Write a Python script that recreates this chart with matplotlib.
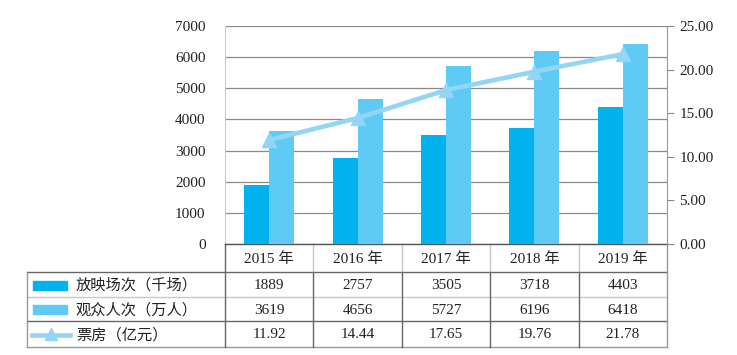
import numpy as np
import matplotlib
matplotlib.use("Agg")
import matplotlib.pyplot as plt
from matplotlib.lines import Line2D
from matplotlib.patches import Rectangle

years = ["2015 年", "2016 年", "2017 年", "2018 年", "2019 年"]
screenings = [1889, 2757, 3505, 3718, 4403]
audience = [3619, 4656, 5727, 6196, 6418]
box_office = [11.92, 14.44, 17.65, 19.76, 21.78]
row_labels = ["放映场次（千场）", "观众人次（万人）", "票房（亿元）"]
left_ticks = [0, 1000, 2000, 3000, 4000, 5000, 6000, 7000]
right_ticks = [0, 5, 10, 15, 20, 25]

FONT = ['Liberation Serif', 'Noto Sans CJK SC']
plt.rcParams['font.family'] = FONT

W, H = 737, 355
fig = plt.figure(figsize=(W / 100, H / 100), dpi=100)

c_dark = "#00B2EE"
c_light = "#5FCAF4"
c_line = "#93D5F4"
fs = 11

# plot area in pixels
x0, x1, ytop, ybot = 225, 667, 26, 244
ax = fig.add_axes([x0 / W, 1 - ybot / H, (x1 - x0) / W, (ybot - ytop) / H])
x = np.arange(len(years))
bw = 0.283
ax.bar(x - bw / 2, screenings, bw, color=c_dark, zorder=3)
ax.bar(x + bw / 2, audience, bw, color=c_light, zorder=3)
ax.set_xlim(-0.5, len(years) - 0.5)
ax.set_ylim(0, 7000)
ax.set_yticks(left_ticks)
ax.set_yticklabels([str(v) for v in left_ticks], fontsize=fs, color="#222222")
ax.tick_params(axis='y', length=0, pad=14)
ax.set_xticks([])
ax.grid(axis='y', color="#8a8a8a", linewidth=0.9, zorder=0)
ax.axhline(7000, color="#222222", linewidth=1.2, zorder=1)
for s in ['top', 'right']:
    ax.spines[s].set_visible(False)
ax.spines['left'].set_color("#cccccc")
ax.spines['bottom'].set_color("#555555")
ax.spines['bottom'].set_linewidth(1.0)

ax2 = ax.twinx()
ax2.plot(x, box_office, color=c_line, linewidth=3.3, marker='^', markersize=10,
         markerfacecolor=c_line, markeredgecolor=c_line, zorder=5)
ax2.set_ylim(0, 25)
ax2.set_yticks(right_ticks)
ax2.set_yticklabels([f"{v:.2f}" for v in right_ticks], fontsize=fs, color="#222222")
ax2.tick_params(axis='y', length=5, color="#888888", pad=4)
for s in ['top', 'left', 'bottom']:
    ax2.spines[s].set_visible(False)
ax2.spines['right'].set_color("#999999")
ax.set_zorder(ax2.get_zorder() - 1)
ax.patch.set_visible(False)

# table overlay in pixel coordinates
tax = fig.add_axes([0, 0, 1, 1], zorder=-5)
tax.set_xlim(0, W)
tax.set_ylim(H, 0)
tax.axis('off')

col_w = (x1 - x0) / len(years)
r_top, r1, r2, r_bot = 272, 297, 321, 347
tl = 27
dark_edge = "#666666"
light_edge = "#c8c8c8"

# horizontal lines
tax.plot([tl, x1], [r_top, r_top], color=dark_edge, lw=1.0)
tax.plot([tl, x1], [r1, r1], color=light_edge, lw=1.0)
tax.plot([tl, x1], [r2, r2], color=dark_edge, lw=1.0)
tax.plot([tl, x1], [r_bot, r_bot], color="#999999", lw=1.0)
# vertical lines
tax.plot([tl, tl], [r_top, r_bot], color="#999999", lw=1.0)
tax.plot([x0, x0], [ybot, r_bot], color=dark_edge, lw=1.0)
tax.plot([x1, x1], [ybot, r_bot], color="#999999", lw=1.0)
for i in range(1, len(years)):
    xc = x0 + i * col_w
    tax.plot([xc, xc], [ybot, r_top], color=light_edge, lw=1.0)
    tax.plot([xc, xc], [r_top, r_bot], color=dark_edge, lw=1.0)

for i, yl in enumerate(years):
    xc = x0 + (i + 0.5) * col_w
    tax.text(xc, (ybot + r_top) / 2 + 1, yl, ha='center', va='center', fontsize=fs, color="#222222")
    tax.text(xc, (r_top + r1) / 2 + 1, str(screenings[i]), ha='center', va='center', fontsize=fs, color="#222222")
    tax.text(xc, (r1 + r2) / 2 + 1, str(audience[i]), ha='center', va='center', fontsize=fs, color="#222222")
    tax.text(xc, (r2 + r_bot) / 2 + 1, f"{box_office[i]:.2f}", ha='center', va='center', fontsize=fs, color="#222222")

# legend keys
tax.add_patch(Rectangle((33, 281), 34, 9, color=c_dark))
tax.add_patch(Rectangle((33, 305), 34, 9, color=c_light))
tax.add_line(Line2D([32, 70], [335, 335], color=c_line, lw=3.3))
tax.add_line(Line2D([51], [334], marker='^', markersize=9, color=c_line))
tax.text(76, (r_top + r1) / 2 + 1, row_labels[0], ha='left', va='center', fontsize=fs, color="#222222")
tax.text(76, (r1 + r2) / 2 + 1, row_labels[1], ha='left', va='center', fontsize=fs, color="#222222")
tax.text(76, (r2 + r_bot) / 2 + 1, row_labels[2], ha='left', va='center', fontsize=fs, color="#222222")

fig.savefig("out.png", dpi=100)
